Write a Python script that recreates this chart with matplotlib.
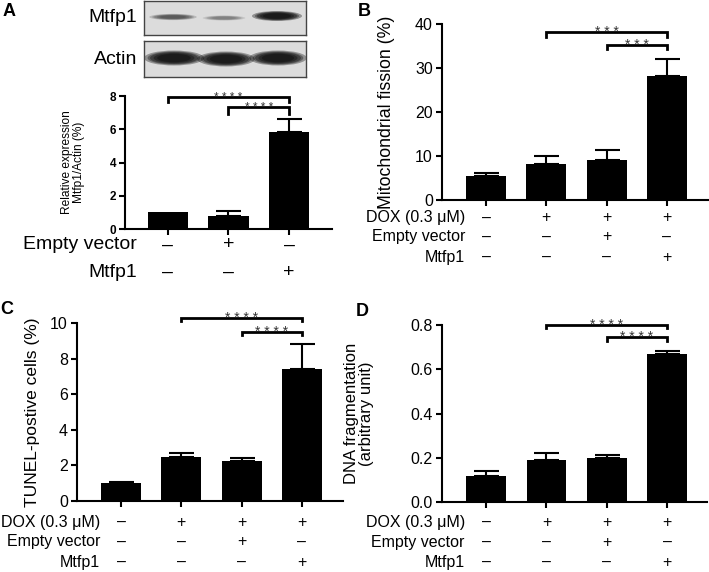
import matplotlib
matplotlib.use("Agg")
import matplotlib.pyplot as plt
from matplotlib.patches import Ellipse

plt.rcParams['font.family'] = ['Liberation Sans', 'DejaVu Sans']

# ---------------- data ----------------
a_vals = [1.0, 0.80, 5.85]
a_err = [0.0, 0.29, 0.76]
a_rows = ["Empty vector", "Mtfp1"]
a_signs = [["–", "+", "–"], ["–", "–", "+"]]

b_vals = [5.5, 8.2, 9.1, 28.2]
b_err = [0.6, 1.7, 2.3, 3.8]
c_vals = [0.99, 2.48, 2.27, 7.41]
c_err = [0.10, 0.20, 0.17, 1.41]
d_vals = [0.118, 0.190, 0.200, 0.668]
d_err = [0.024, 0.032, 0.011, 0.014]

rows4 = ["DOX (0.3 μM)", "Empty vector", "Mtfp1"]
signs4 = [["–", "+", "+", "+"], ["–", "–", "+", "–"], ["–", "–", "–", "+"]]

# brackets: (i, j, y_line, y_leg, stars)
a_br = [(0, 2, 7.92, 7.66, "* * * *"), (1, 2, 7.32, 6.9, "* * * *")]
b_br = [(1, 3, 38.1, 37.1, "* * *"), (2, 3, 35.3, 34.3, "* * *")]
c_br = [(1, 3, 10.28, 10.1, "* * * *"), (2, 3, 9.5, 9.3, "* * * *")]
d_br = [(1, 3, 0.800, 0.785, "* * * *"), (2, 3, 0.747, 0.729, "* * * *")]

W, H = 709, 572
fig = plt.figure(figsize=(W / 100, H / 100), dpi=100)

TICK_FS = 11.5
ROW_FS = 11.5


def px_axes(l, r, t, b):
    return fig.add_axes([l / W, 1 - b / H, (r - l) / W, (b - t) / H])


def style(ax, tick_fs, bold=False):
    for s in ['top', 'right']:
        ax.spines[s].set_visible(False)
    for s in ['left', 'bottom']:
        ax.spines[s].set_linewidth(1.5)
    ax.tick_params(axis='both', width=1.5, length=4, pad=2.5, labelsize=tick_fs)
    ax.tick_params(axis='x', labelbottom=False)
    if bold:
        for t in ax.get_yticklabels():
            t.set_fontweight('bold')


def bars(ax, vals, errs, width):
    x = list(range(len(vals)))
    ax.bar(x, vals, width=width, color='black', zorder=2)
    for xi, v, e in zip(x, vals, errs):
        if e > 0:
            ax.errorbar([xi], [v], yerr=[[0], [e]], fmt='none', ecolor='black',
                        elinewidth=1.5, capsize=9, capthick=1.5, zorder=1)
    ax.set_xticks(x)


def brackets(ax, brs, fs):
    for i, j, y, yl, st in brs:
        ax.plot([i, i, j, j], [yl, y, y, yl], color='black', lw=2,
                clip_on=False, solid_joinstyle='miter')
        ax.annotate(st, xy=((i + j) / 2, y), xytext=(0, -fs * 0.28),
                    textcoords='offset points', ha='center', va='baseline',
                    fontsize=fs, color='#333333', annotation_clip=False)


def rows(ax, labels, signs, ys, xlab, fs):
    tr = ax.get_xaxis_transform()
    for lab, sg, y in zip(labels, signs, ys):
        ax.text(xlab, y, lab, transform=ax.transAxes, ha='right', va='center',
                fontsize=fs, clip_on=False)
        for k, s in enumerate(sg):
            ax.text(k, y, s, transform=tr, ha='center', va='center',
                    fontsize=fs, clip_on=False)


# ---------------- Panel A ----------------
axA = px_axes(125, 332, 96, 229)
bars(axA, a_vals, a_err, 0.675)
axA.set_ylim(0, 8)
axA.set_xlim(-0.71, 2.71)
axA.set_yticks([0, 2, 4, 6, 8])
style(axA, 8.5, bold=True)
axA.set_ylabel("Relative expression\nMtfp1/Actin (%)", fontsize=8.6, linespacing=1.0)
axA.yaxis.set_label_coords(-0.195, 0.5)
brackets(axA, a_br, 8.5)
rows(axA, a_rows, a_signs, [-0.12, -0.325], 0.058, 14)

# western blot
for (top, bot, label, bands) in [
        (1, 35, "Mtfp1", [(173, 17, 38, 5, 0.45), (224, 18, 34, 4, 0.28), (277, 16, 40, 8, 0.98)]),
        (41, 77, "Actin", [(174, 58, 48, 12, 0.95), (226, 59, 46, 12, 0.95), (278, 58, 46, 12, 0.95)])]:
    bx = px_axes(144, 306, top, bot)
    bx.set_xlim(144, 306)
    bx.set_ylim(bot, top)
    bx.set_facecolor('#dcdcdc')
    bx.set_xticks([])
    bx.set_yticks([])
    for s in bx.spines.values():
        s.set_linewidth(1.0)
        s.set_color('#444444')
    for cx, cy, w, h, a in bands:
        for f in [1.25, 1.1, 1.0, 0.85, 0.7]:
            bx.add_patch(Ellipse((cx, cy), w * f, h * f, color='black',
                                 alpha=a * 0.35, lw=0))
    fig.text(137 / W, 1 - ((top + bot) / 2) / H, label, ha='right', va='center',
             fontsize=14)

# ---------------- Panel B ----------------
axB = px_axes(442, 708, 24, 200)
bars(axB, b_vals, b_err, 0.66)
axB.set_ylim(0, 40)
axB.set_xlim(-0.73, 3.68)
axB.set_yticks([0, 10, 20, 30, 40])
style(axB, TICK_FS)
axB.set_ylabel("Mitochondrial fission (%)", fontsize=12.8)
axB.yaxis.set_label_coords(-0.177, 0.5)
brackets(axB, b_br, 10)
rows(axB, rows4, signs4, [-0.102, -0.21, -0.324], 0.086, ROW_FS)

# ---------------- Panel C ----------------
axC = px_axes(77, 343, 323, 501)
bars(axC, c_vals, c_err, 0.66)
axC.set_ylim(0, 10)
axC.set_xlim(-0.73, 3.68)
axC.set_yticks([0, 2, 4, 6, 8, 10])
style(axC, TICK_FS)
axC.set_ylabel("TUNEL-postive cells (%)", fontsize=12.5)
axC.yaxis.set_label_coords(-0.139, 0.5)
brackets(axC, c_br, 10)
rows(axC, rows4, signs4, [-0.118, -0.23, -0.343], 0.086, ROW_FS)

# ---------------- Panel D ----------------
axD = px_axes(442, 707, 325, 502)
bars(axD, d_vals, d_err, 0.66)
axD.set_ylim(0, 0.8)
axD.set_xlim(-0.73, 3.66)
axD.set_yticks([0, 0.2, 0.4, 0.6, 0.8])
axD.set_yticklabels(["0.0", "0.2", "0.4", "0.6", "0.8"])
style(axD, TICK_FS)
axD.set_ylabel("DNA fragmentation\n(arbitrary unit)", fontsize=12, linespacing=1.0)
axD.yaxis.set_label_coords(-0.255, 0.5)
brackets(axD, d_br, 10)
rows(axD, rows4, signs4, [-0.113, -0.226, -0.339], 0.086, ROW_FS)

# panel letters
for lt, x, y in [("A", 9, 12), ("B", 364, 11), ("C", 7, 310), ("D", 362, 311)]:
    fig.text(x / W, 1 - y / H, lt, ha='center', va='center', fontsize=13,
             fontweight='bold')

fig.savefig("out.png", dpi=100)
